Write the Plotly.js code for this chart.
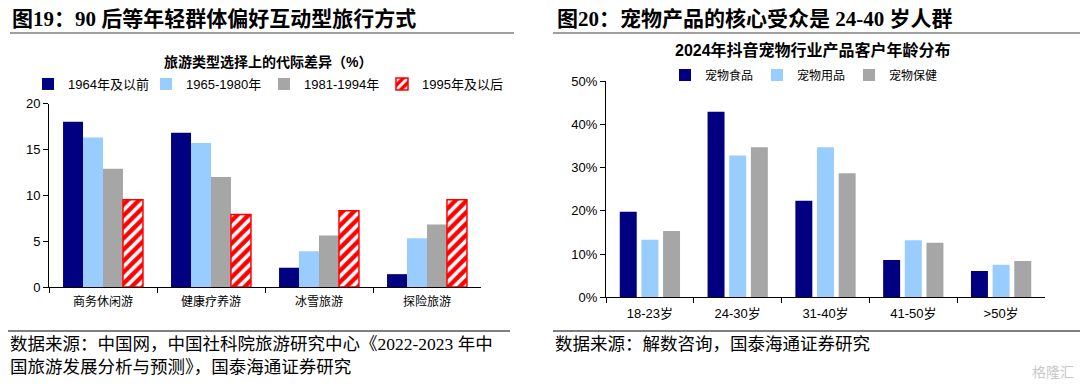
<!DOCTYPE html>
<html>
<head>
<meta charset="utf-8">
<script src="https://cdn.plot.ly/plotly-3.0.1.min.js"></script>
<style>
  html, body { margin: 0; padding: 0; background: #ffffff; }
  #chart { width: 1080px; height: 384px; }
</style>
</head>
<body>
<div id="chart"></div>
<script>
// ---------- Left chart data ----------
const travelCategories = ['商务休闲游', '健康疗养游', '冰雪旅游', '探险旅游'];
const travelSeriesNames = ['1964年及以前', '1965-1980年', '1981-1994年', '1995年及以后'];
const travelBefore1964 = [18.0, 16.8, 2.1, 1.4];
const travel1965to1980 = [16.3, 15.7, 3.9, 5.3];
const travel1981to1994 = [12.9, 12.0, 5.6, 6.8];
const travelAfter1995 = [9.5, 7.9, 8.3, 9.5];
const travelYTicks = [0, 5, 10, 15, 20];

// ---------- Right chart data ----------
const ageCategories = ['18-23岁', '24-30岁', '31-40岁', '41-50岁', '>50岁'];
const petSeriesNames = ['宠物食品', '宠物用品', '宠物保健'];
const petFood = [0.198, 0.429, 0.223, 0.086, 0.061];
const petSupplies = [0.133, 0.328, 0.347, 0.132, 0.075];
const petHealth = [0.153, 0.347, 0.287, 0.126, 0.084];
const petYTicks = [0, 0.1, 0.2, 0.3, 0.4, 0.5];

const NAVY = '#000080', LBLUE = '#99CCFF', GRAY = '#A6A6A6', RED = '#FF0000';
const LAT = 'Liberation Sans, Arial, Noto Sans CJK SC, sans-serif';
const SER = 'Liberation Serif, Times New Roman, Noto Sans CJK SC, serif';

const W = 1080, H = 384;
const px = v => v / W;
const py = v => 1 - v / H;

const leftBarWidth = (1 - 0.26) / 4;
const rightBarWidth = (1 - 0.42) / 3;

const traces = [
  { type: 'bar', x: travelCategories, y: travelBefore1964, name: travelSeriesNames[0],
    marker: { color: NAVY }, xaxis: 'x', yaxis: 'y', legend: 'legend' },
  { type: 'bar', x: travelCategories, y: travel1965to1980, name: travelSeriesNames[1],
    marker: { color: LBLUE }, xaxis: 'x', yaxis: 'y', legend: 'legend' },
  { type: 'bar', x: travelCategories, y: travel1981to1994, name: travelSeriesNames[2],
    marker: { color: GRAY }, xaxis: 'x', yaxis: 'y', legend: 'legend' },
  { type: 'bar', x: travelCategories, y: travelAfter1995, name: travelSeriesNames[3],
    marker: { color: RED, line: { color: RED, width: 1.5 },
              pattern: { shape: '/', bgcolor: RED, fgcolor: '#ffffff', size: 8, solidity: 0.45, fillmode: 'replace' } },
    xaxis: 'x', yaxis: 'y', legend: 'legend', legendwidth: 95 },
  { type: 'bar', x: ageCategories, y: petFood, name: petSeriesNames[0],
    marker: { color: NAVY }, xaxis: 'x2', yaxis: 'y2', legend: 'legend2' },
  { type: 'bar', x: ageCategories, y: petSupplies, name: petSeriesNames[1],
    marker: { color: LBLUE }, xaxis: 'x2', yaxis: 'y2', legend: 'legend2' },
  { type: 'bar', x: ageCategories, y: petHealth, name: petSeriesNames[2],
    marker: { color: GRAY }, xaxis: 'x2', yaxis: 'y2', legend: 'legend2' }
];
traces.forEach((t, i) => { t.hoverinfo = 'skip'; t.width = i < 4 ? leftBarWidth : rightBarWidth; });

const axisCommon = {
  showline: true, linecolor: '#000000', linewidth: 1, showgrid: false, zeroline: false,
  ticks: 'outside', ticklen: 5, tickwidth: 1, tickcolor: '#000000', fixedrange: true
};

const layout = {
  width: W, height: H,
  margin: { l: 0, r: 0, t: 0, b: 0 },
  paper_bgcolor: '#ffffff', plot_bgcolor: '#ffffff',
  barmode: 'group',
  bargap: 0.26, bargroupgap: 0,
  showlegend: true,
  font: { family: LAT, color: '#000000' },
  xaxis: Object.assign({}, axisCommon, {
    domain: [px(49), px(481)], anchor: 'y', type: 'category',
    range: [-0.5, 3.5], tickson: 'boundaries', ticklabelstandoff: 4,
    tickfont: { family: LAT, size: 12, color: '#000' }
  }),
  yaxis: Object.assign({}, axisCommon, {
    domain: [py(287), py(103.5)], anchor: 'x', range: [0, 20],
    tickmode: 'array', tickvals: travelYTicks, ticktext: travelYTicks.map(String),
    tickfont: { family: LAT, size: 13, color: '#000' }
  }),
  xaxis2: Object.assign({}, axisCommon, {
    domain: [px(606), px(1045)], anchor: 'y2', type: 'category',
    range: [-0.5, 4.5], tickson: 'boundaries', ticklabelstandoff: 4,
    tickfont: { family: LAT, size: 13, color: '#000' }
  }),
  yaxis2: Object.assign({}, axisCommon, {
    domain: [py(297.3), py(81)], anchor: 'x2', range: [0, 0.5],
    tickmode: 'array', tickvals: petYTicks, tickformat: '.0%',
    tickfont: { family: LAT, size: 13, color: '#000' }
  }),
  legend: {
    orientation: 'h', x: px(28), y: py(84), xanchor: 'left', yanchor: 'middle',
    entrywidthmode: 'pixels', entrywidth: 73, itemclick: false, itemdoubleclick: false,
    font: { family: LAT, size: 13, color: '#000' }, bgcolor: 'rgba(0,0,0,0)', borderwidth: 0
  },
  legend2: {
    orientation: 'h', x: px(665), y: py(75), xanchor: 'left', yanchor: 'middle',
    entrywidthmode: 'pixels', entrywidth: 47, itemclick: false, itemdoubleclick: false,
    font: { family: LAT, size: 12, color: '#000' }, bgcolor: 'rgba(0,0,0,0)', borderwidth: 0
  },
  shapes: [
    { type: 'line', xref: 'paper', yref: 'paper', x0: px(10), x1: px(514), y0: py(33), y1: py(33),
      line: { color: '#7f7f7f', width: 1.5 } },
    { type: 'line', xref: 'paper', yref: 'paper', x0: px(553), x1: px(1080), y0: py(33), y1: py(33),
      line: { color: '#7f7f7f', width: 1.5 } },
    { type: 'line', xref: 'paper', yref: 'paper', x0: px(8), x1: px(510), y0: py(331), y1: py(331),
      line: { color: '#7f7f7f', width: 2 } },
    { type: 'line', xref: 'paper', yref: 'paper', x0: px(553), x1: px(1080), y0: py(331), y1: py(331),
      line: { color: '#7f7f7f', width: 2 } }
  ],
  annotations: [
    { text: '<b>图19：90 后等年轻群体偏好互动型旅行方式</b>', xref: 'paper', yref: 'paper',
      x: px(10), y: py(19), xanchor: 'left', yanchor: 'middle', showarrow: false,
      font: { family: SER, size: 21, color: '#000' } },
    { text: '<b>图20：宠物产品的核心受众是 24-40 岁人群</b>', xref: 'paper', yref: 'paper',
      x: px(555), y: py(19), xanchor: 'left', yanchor: 'middle', showarrow: false,
      font: { family: SER, size: 21, color: '#000' } },
    { text: '<b>旅游类型选择上的代际差异（%）</b>', xref: 'paper', yref: 'paper',
      x: px(268), y: py(62), xanchor: 'center', yanchor: 'middle', showarrow: false,
      font: { family: LAT, size: 14, color: '#000' } },
    { text: '<b>2024年抖音宠物行业产品客户年龄分布</b>', xref: 'paper', yref: 'paper',
      x: px(813), y: py(50), xanchor: 'center', yanchor: 'middle', showarrow: false,
      font: { family: LAT, size: 16, color: '#000' } },
    { text: '数据来源：中国网，中国社科院旅游研究中心《2022-2023 年中', xref: 'paper', yref: 'paper',
      x: px(8), y: py(344), xanchor: 'left', yanchor: 'middle', showarrow: false,
      font: { family: SER, size: 17.5, color: '#000' } },
    { text: '国旅游发展分析与预测》，国泰海通证券研究', xref: 'paper', yref: 'paper',
      x: px(8), y: py(367), xanchor: 'left', yanchor: 'middle', showarrow: false,
      font: { family: SER, size: 17.5, color: '#000' } },
    { text: '数据来源：解数咨询，国泰海通证券研究', xref: 'paper', yref: 'paper',
      x: px(553), y: py(344), xanchor: 'left', yanchor: 'middle', showarrow: false,
      font: { family: SER, size: 17.5, color: '#000' } },
    { text: '格隆汇', xref: 'paper', yref: 'paper',
      x: px(1076), y: py(372), xanchor: 'right', yanchor: 'middle', showarrow: false,
      font: { family: LAT, size: 14, color: '#c8c8c8' } }
  ]
};

Plotly.newPlot('chart', traces, layout, { staticPlot: true, displayModeBar: false });
</script>
</body>
</html>
